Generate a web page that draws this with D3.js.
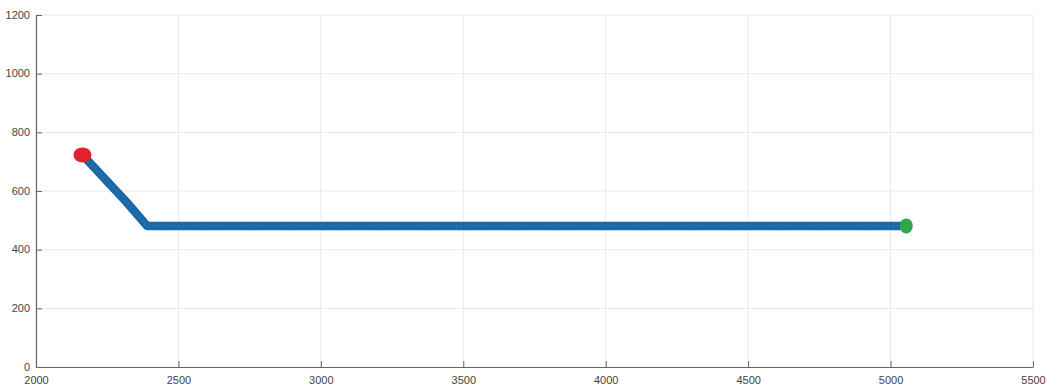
<!DOCTYPE html>
<html><head><meta charset="utf-8">
<script src="https://cdn.jsdelivr.net/npm/d3@7"></script>
<style>body{margin:0;background:#fff}svg{display:block}text{font-family:"Liberation Sans",Arial,sans-serif}</style>
</head><body><svg id="c" width="1047" height="387"></svg>
<script>
const pathX = [2163, 2318, 2390, 5055];
const pathY = [723, 562, 481, 481];
const startPt = [2163, 723];
const endPt = [5055, 481];
const xTicks = [2000, 2500, 3000, 3500, 4000, 4500, 5000, 5500];
const yTicks = [0, 200, 400, 600, 800, 1000, 1200];

const svg = d3.select("#c");
const m = {l: 36, r: 1033, t: 15, b: 367};
const x = d3.scaleLinear().domain([2000, 5500]).range([m.l, m.r]);
const y = d3.scaleLinear().domain([0, 1200]).range([m.b, m.t]);

// grid
svg.append("g").selectAll("line").data(xTicks).join("line")
  .attr("x1", d => x(d)).attr("x2", d => x(d)).attr("y1", m.t).attr("y2", m.b)
  .attr("stroke", "#e8e8e8").attr("stroke-width", 1);
svg.append("g").selectAll("line").data(yTicks).join("line")
  .attr("x1", m.l).attr("x2", m.r).attr("y1", d => y(d)).attr("y2", d => y(d))
  .attr("stroke", "#e8e8e8").attr("stroke-width", 1);

// axes
const xa = svg.append("g").attr("transform", `translate(0,${m.b})`)
  .call(d3.axisBottom(x).tickValues(xTicks).tickSizeInner(-6).tickSizeOuter(0).tickPadding(9).tickFormat(d3.format("d")));
const ya = svg.append("g").attr("transform", `translate(${m.l},0)`)
  .call(d3.axisLeft(y).tickValues(yTicks).tickSizeInner(-6).tickSizeOuter(0).tickPadding(6).tickFormat(d3.format("d")));
[xa, ya].forEach(g => {
  g.select(".domain").attr("stroke", "#666").attr("stroke-width", 1.2);
  g.selectAll(".tick line").attr("stroke", "#666");
  g.selectAll("text").attr("fill", "#444").style("font-size", "11px");
});
ya.selectAll("text").attr("dy", "0.3em");

// data line
const pts = pathX.map((d, i) => [d, pathY[i]]);
const line = d3.line().x(d => x(d[0])).y(d => y(d[1]));
svg.append("path").datum(pts).attr("d", line)
  .attr("fill", "none").attr("stroke", "#1a69a6").attr("stroke-width", 8.5)
  .attr("stroke-linejoin", "round");
svg.append("path").datum(pts).attr("d", line)
  .attr("fill", "none").attr("stroke", "#2a78b4").attr("stroke-width", 3)
  .attr("stroke-dasharray", "2,2.4").attr("opacity", 0.6);

svg.append("ellipse").attr("cx", x(startPt[0])).attr("cy", y(startPt[1]))
  .attr("rx", 9).attr("ry", 7.5).attr("fill", "#e3202b");
svg.append("ellipse").attr("cx", x(endPt[0])).attr("cy", y(endPt[1]))
  .attr("rx", 6.5).attr("ry", 7.5).attr("fill", "#2fa84b");
</script></body></html>
